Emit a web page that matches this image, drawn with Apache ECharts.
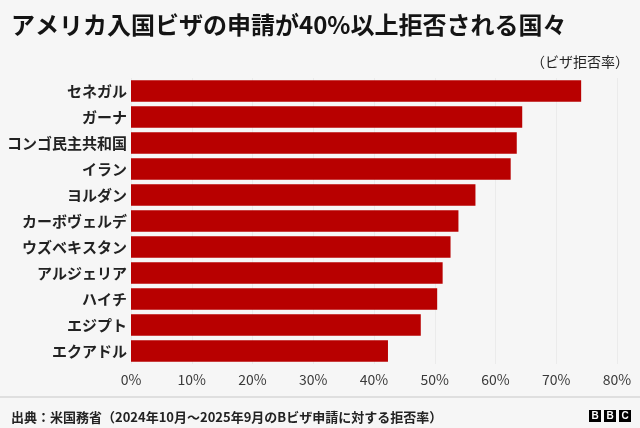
<html>
<head>
<meta http-equiv="Content-Type" content="text/html; charset=utf-8">
<script type="text/javascript" src="https://cdn.jsdelivr.net/npm/echarts@6/dist/echarts.min.js"></script>
<style>
html, body { margin: 0; padding: 0; background: #f6f6f6; }
#main { width: 640px; height: 428px; }
</style>
</head>
<body>
<div id="main"></div>
<script type="text/javascript">
// 国名（上から順）
var countries = ['セネガル', 'ガーナ', 'コンゴ民主共和国', 'イラン', 'ヨルダン', 'カーボヴェルデ', 'ウズベキスタン', 'アルジェリア', 'ハイチ', 'エジプト', 'エクアドル'];
// ビザ拒否率（%）
var rates = [74.1, 64.4, 63.5, 62.5, 56.7, 53.9, 52.6, 51.3, 50.4, 47.7, 42.3];
var xTicks = [0, 10, 20, 30, 40, 50, 60, 70, 80];

var font = '"Noto Sans CJK JP", "Noto Sans", sans-serif';
var myChart = echarts.init(document.getElementById('main'));

var option = {
	backgroundColor: '#f6f6f6',
	animation: false,
	title: [
		{
			text: 'アメリカ入国ビザの申請が40%以上拒否される国々',
			left: 6, top: 8,
			textStyle: { fontFamily: font, fontSize: 24, fontWeight: 'bold', color: '#141414' }
		},
		{
			text: '（ビザ拒否率）',
			right: 6, top: 50,
			textStyle: { fontFamily: font, fontSize: 14, fontWeight: 'normal', color: '#222' }
		},
		{
			text: '出典：米国務省（2024年10月～2025年9月のBビザ申請に対する拒否率）',
			left: 6, top: 406,
			textStyle: { fontFamily: font, fontSize: 13, fontWeight: 'bold', color: '#222' }
		}
	],
	grid: { left: 131, right: 23, top: 78, bottom: 64 },
	xAxis: {
		type: 'value',
		min: xTicks[0],
		max: xTicks[xTicks.length - 1],
		interval: 10,
		axisLine: { show: false },
		axisTick: { show: false },
		splitLine: { lineStyle: { color: '#ebebeb', width: 1 } },
		axisLabel: {
			formatter: '{value}%',
			fontFamily: font, fontSize: 14, color: '#3a3a3a', margin: 9
		}
	},
	yAxis: {
		type: 'category',
		inverse: true,
		data: countries,
		axisLine: { show: false },
		axisTick: { show: false },
		axisLabel: { fontFamily: font, fontSize: 15, fontWeight: 'bold', color: '#222', margin: 4 }
	},
	series: [
		{
			type: 'bar',
			data: rates,
			barCategoryGap: '18%',
			itemStyle: { color: '#b80000' }
		}
	],
	graphic: [
		{
			type: 'line',
			shape: { x1: 0, y1: 397, x2: 640, y2: 397 },
			style: { stroke: '#c8c8c8', lineWidth: 1 }
		},
		{ type: 'rect', shape: { x: 589, y: 410, width: 12, height: 12 }, style: { fill: '#000' } },
		{ type: 'rect', shape: { x: 604, y: 410, width: 12, height: 12 }, style: { fill: '#000' } },
		{ type: 'rect', shape: { x: 619, y: 410, width: 12, height: 12 }, style: { fill: '#000' } },
		{ type: 'text', style: { text: 'B', x: 595, y: 416, fill: '#fff', font: 'bold 10px "Liberation Sans", sans-serif', align: 'center', verticalAlign: 'middle' } },
		{ type: 'text', style: { text: 'B', x: 610, y: 416, fill: '#fff', font: 'bold 10px "Liberation Sans", sans-serif', align: 'center', verticalAlign: 'middle' } },
		{ type: 'text', style: { text: 'C', x: 625, y: 416, fill: '#fff', font: 'bold 10px "Liberation Sans", sans-serif', align: 'center', verticalAlign: 'middle' } }
	]
};
myChart.setOption(option);
</script>
</body>
</html>
